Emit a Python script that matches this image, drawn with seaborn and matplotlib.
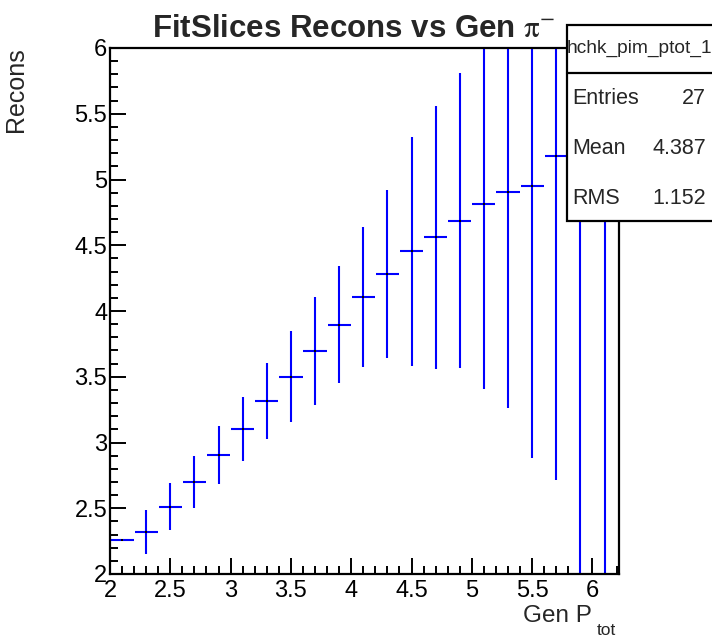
import numpy as np
import pandas as pd
import matplotlib
matplotlib.use("Agg")
import matplotlib.pyplot as plt
import seaborn as sns
from matplotlib.patches import Rectangle
from matplotlib.lines import Line2D

# ---- data ----
gen_ptot = [2.1, 2.3, 2.5, 2.7, 2.9, 3.1, 3.3, 3.5, 3.7, 3.9, 4.1,
            4.3, 4.5, 4.7, 4.9, 5.1, 5.3, 5.5, 5.7, 5.9, 6.1]
recons = [2.255, 2.318, 2.513, 2.700, 2.907, 3.106, 3.313, 3.500, 3.693, 3.896, 4.107,
          4.283, 4.455, 4.562, 4.687, 4.816, 4.902, 4.953, 5.177, 5.500, 5.600]
recons_err = [0.0, 0.167, 0.178, 0.195, 0.222, 0.243, 0.290, 0.345, 0.410, 0.446, 0.535,
              0.640, 0.870, 1.000, 1.120, 1.410, 1.640, 2.070, 2.460, 4.0, 4.0]
bin_half_width = 0.1
x_ticks = [2, 2.5, 3, 3.5, 4, 4.5, 5, 5.5, 6]
x_tick_labels = ["2", "2.5", "3", "3.5", "4", "4.5", "5", "5.5", "6"]
y_ticks = [2, 2.5, 3, 3.5, 4, 4.5, 5, 5.5, 6]
y_tick_labels = ["2", "2.5", "3", "3.5", "4", "4.5", "5", "5.5", "6"]
stats_name = "hchk_pim_ptot_1"
stats_rows = [("Entries", "27"), ("Mean", "4.387"), ("RMS", "1.152")]

df = pd.DataFrame({"gen": gen_ptot, "rec": recons, "err": recons_err})

sns.set_style("ticks")
plt.rcParams["font.family"] = ["Liberation Sans", "DejaVu Sans"]

W, H = 712, 637
fig = plt.figure(figsize=(W / 100, H / 100), dpi=100)
L, R, T, B = 110, 619, 48, 574
ax = fig.add_axes([L / W, 1 - B / H, (R - L) / W, (B - T) / H])

ax.errorbar(df["gen"], df["rec"], yerr=df["err"], xerr=bin_half_width * 0.96,
            fmt="none", ecolor="#0000ff", elinewidth=1.5, capsize=0, zorder=2)
sns.scatterplot(data=df, x="gen", y="rec", ax=ax, color="black", s=3,
                marker="s", linewidth=0, zorder=3, legend=False)

ax.set_xlim(2, 6.22)
ax.set_ylim(2, 6)
ax.set_xticks(x_ticks)
ax.set_xticklabels(x_tick_labels)
ax.set_yticks(y_ticks)
ax.set_yticklabels(y_tick_labels)
ax.set_xticks(np.arange(2.1, 6.21, 0.1), minor=True)
ax.set_yticks(np.arange(2.1, 6.0, 0.1), minor=True)
ax.tick_params(axis="both", which="major", direction="in", length=11.5, width=1.4,
               labelsize=17, color="black", labelcolor="black")
ax.tick_params(axis="both", which="minor", direction="in", length=5.8, width=1.4,
               color="black")
ax.tick_params(axis="x", pad=4)
ax.tick_params(axis="y", pad=2)
for s in ax.spines.values():
    s.set_linewidth(1.6)
    s.set_color("black")
ax.set_xlabel("")
ax.set_ylabel("")
ax.grid(False)

# axis titles (ROOT style, aligned to axis end)
fig.text(592 / W, 1 - 622 / H, "Gen P", ha="right", va="baseline", fontsize=17.5)
fig.text(597 / W, 1 - 635 / H, "tot", ha="left", va="baseline", fontsize=12.5)
fig.text(16 / W, 1 - 47 / H, "Recons", rotation=90, ha="center", va="top",
         fontsize=18)

# title
ttl = fig.text(0.497, 1 - 37 / H, r"FitSlices Recons vs Gen $\mathrm{π}^{\mathrm{-}}$",
               ha="center", va="baseline", fontsize=22.5, fontweight="bold")
ttl.set_math_fontfamily("stix")

# stats box
bx0, bx1, by0, by1, bsep = 567, 716, 25, 221, 73
rect = Rectangle((bx0 / W, 1 - by1 / H), (bx1 - bx0) / W, (by1 - by0) / H,
                 transform=fig.transFigure, facecolor="white", edgecolor="black",
                 linewidth=1.6, zorder=10, clip_on=False)
fig.add_artist(rect)
fig.add_artist(Line2D([bx0 / W, 1.0], [1 - bsep / H, 1 - bsep / H],
                      transform=fig.transFigure, color="black", linewidth=1.6, zorder=11))
fig.text(639 / W, 1 - 48 / H, stats_name, ha="center", va="center", fontsize=13.8,
         zorder=12)
row_y = [99, 148, 199]
for (lab, val), yy in zip(stats_rows, row_y):
    fig.text(572 / W, 1 - yy / H, lab, ha="left", va="center", fontsize=15.5, zorder=12)
    fig.text(706 / W, 1 - yy / H, val, ha="right", va="center", fontsize=15.5, zorder=12)

fig.savefig("out.png", dpi=100, facecolor="white")
